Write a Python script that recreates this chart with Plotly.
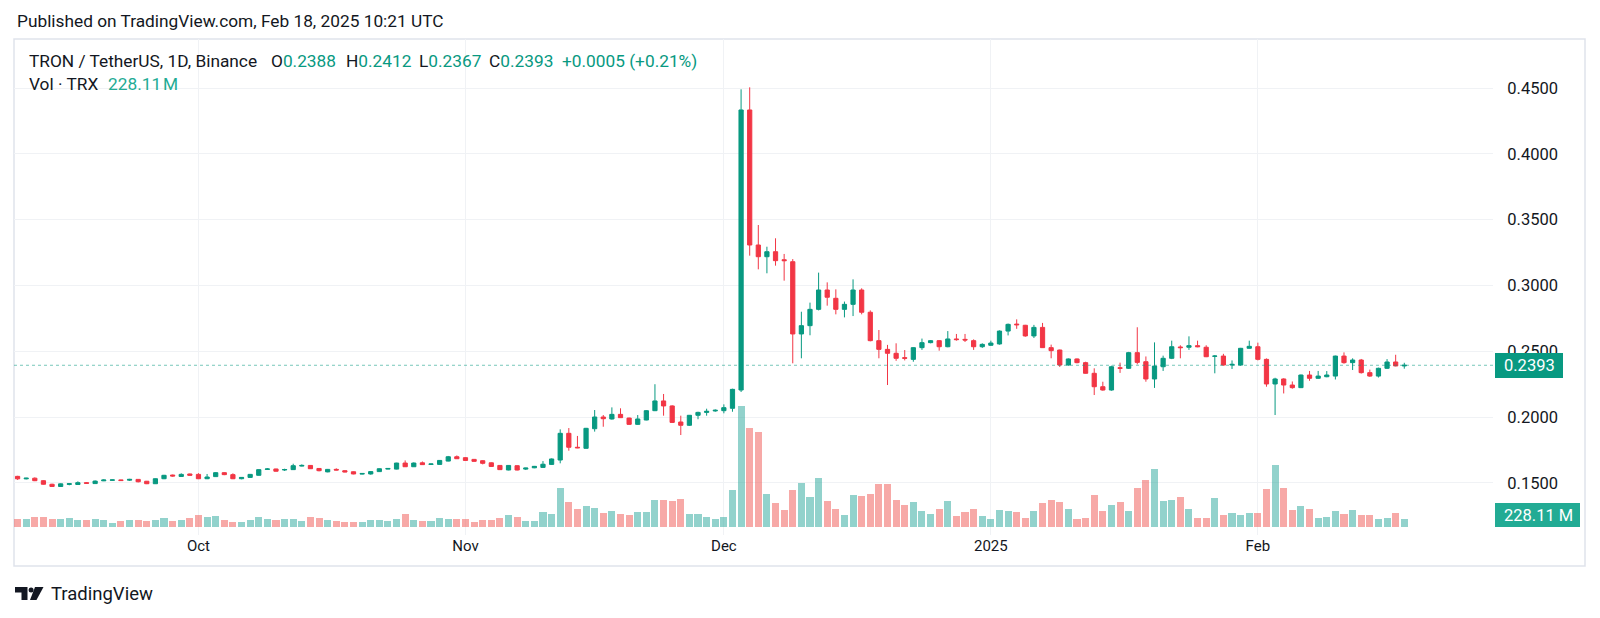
import plotly.graph_objects as go
import pandas as pd

# ---------------- data ----------------
dates = pd.date_range("2024-09-10", "2025-02-18", freq="D").strftime("%Y-%m-%d").tolist()

open_ = [0.1549, 0.1530, 0.1535, 0.1516, 0.1489, 0.1472, 0.1488, 0.1487, 0.1501, 0.1494,
         0.1515, 0.1519, 0.1522, 0.1520, 0.1526, 0.1512, 0.1493, 0.1531, 0.1559, 0.1548,
         0.1567, 0.1564, 0.1531, 0.1547, 0.1577, 0.1562, 0.1531, 0.1541, 0.1557, 0.1602,
         0.1605, 0.1597, 0.1600, 0.1627, 0.1632, 0.1609, 0.1583, 0.1602, 0.1592, 0.1584,
         0.1566, 0.1567, 0.1585, 0.1604, 0.1604, 0.1650, 0.1622, 0.1652, 0.1640, 0.1640,
         0.1665, 0.1698, 0.1691, 0.1678, 0.1668, 0.1652, 0.1632, 0.1597, 0.1630, 0.1604,
         0.1614, 0.1617, 0.1640, 0.1673, 0.1876, 0.1770, 0.1762, 0.1911, 0.2000, 0.1985,
         0.2020, 0.1992, 0.1944, 0.1977, 0.2048, 0.2122, 0.2084, 0.1962, 0.1937, 0.2013,
         0.2035, 0.2046, 0.2048, 0.2066, 0.2205, 0.4333, 0.3307, 0.3218, 0.3256, 0.3195,
         0.3180, 0.2631, 0.2694, 0.2818, 0.2965, 0.2902, 0.2818, 0.2856, 0.2965, 0.2796,
         0.2580, 0.2514, 0.2484, 0.2451, 0.2438, 0.2527, 0.2565, 0.2580, 0.2534, 0.2593,
         0.2590, 0.2580, 0.2534, 0.2545, 0.2555, 0.2653, 0.2706, 0.2697, 0.2616, 0.2681,
         0.2527, 0.2509, 0.2395, 0.2441, 0.2413, 0.2332, 0.2230, 0.2205, 0.2374, 0.2370,
         0.2489, 0.2420, 0.2289, 0.2382, 0.2446, 0.2532, 0.2530, 0.2542, 0.2530, 0.2461,
         0.2463, 0.2395, 0.2395, 0.2522, 0.2534, 0.2438, 0.2251, 0.2289, 0.2243, 0.2223,
         0.2319, 0.2294, 0.2306, 0.2311, 0.2463, 0.2413, 0.2433, 0.2337, 0.2311, 0.2370,
         0.2418, 0.2388]

high = [0.1553, 0.1538, 0.1541, 0.1519, 0.1493, 0.1495, 0.1498, 0.1511, 0.1506, 0.1518,
        0.1526, 0.1524, 0.1524, 0.1530, 0.1528, 0.1514, 0.1533, 0.1560, 0.1562, 0.1572,
        0.1570, 0.1573, 0.1567, 0.1580, 0.1580, 0.1572, 0.1543, 0.1567, 0.1602, 0.1612,
        0.1607, 0.1607, 0.1645, 0.1640, 0.1635, 0.1612, 0.1605, 0.1610, 0.1595, 0.1586,
        0.1574, 0.1588, 0.1609, 0.1612, 0.1652, 0.1670, 0.1655, 0.1662, 0.1645, 0.1673,
        0.1704, 0.1708, 0.1694, 0.1681, 0.1672, 0.1655, 0.1634, 0.1635, 0.1633, 0.1614,
        0.1628, 0.1665, 0.1685, 0.1906, 0.1916, 0.1856, 0.1917, 0.2053, 0.2015, 0.2073,
        0.2066, 0.1995, 0.2015, 0.2052, 0.2249, 0.2175, 0.2089, 0.2010, 0.2015, 0.2040,
        0.2063, 0.2058, 0.2096, 0.2215, 0.4490, 0.4505, 0.3459, 0.3294, 0.3358, 0.3239,
        0.3200, 0.2800, 0.2869, 0.3097, 0.3023, 0.2970, 0.2877, 0.3046, 0.2978, 0.2810,
        0.2661, 0.2548, 0.2560, 0.2509, 0.2530, 0.2596, 0.2585, 0.2585, 0.2653, 0.2631,
        0.2631, 0.2590, 0.2560, 0.2580, 0.2658, 0.2710, 0.2742, 0.2700, 0.2700, 0.2715,
        0.2550, 0.2512, 0.2445, 0.2445, 0.2420, 0.2370, 0.2268, 0.2390, 0.2413, 0.2495,
        0.2682, 0.2460, 0.2567, 0.2466, 0.2580, 0.2545, 0.2613, 0.2580, 0.2545, 0.2470,
        0.2480, 0.2430, 0.2525, 0.2580, 0.2565, 0.2445, 0.2298, 0.2294, 0.2270, 0.2322,
        0.2350, 0.2350, 0.2349, 0.2466, 0.2491, 0.2446, 0.2441, 0.2360, 0.2375, 0.2440,
        0.2473, 0.2412]

low = [0.1522, 0.1526, 0.1513, 0.1486, 0.1469, 0.1468, 0.1481, 0.1484, 0.1493, 0.1492,
       0.1513, 0.1516, 0.1514, 0.1514, 0.1503, 0.1490, 0.1491, 0.1528, 0.1547, 0.1545,
       0.1554, 0.1528, 0.1528, 0.1545, 0.1558, 0.1528, 0.1527, 0.1538, 0.1555, 0.1598,
       0.1585, 0.1590, 0.1598, 0.1624, 0.1605, 0.1587, 0.1580, 0.1595, 0.1580, 0.1565,
       0.1563, 0.1562, 0.1583, 0.1602, 0.1602, 0.1620, 0.1620, 0.1636, 0.1637, 0.1638,
       0.1663, 0.1681, 0.1668, 0.1660, 0.1640, 0.1621, 0.1597, 0.1595, 0.1594, 0.1597,
       0.1611, 0.1614, 0.1636, 0.1648, 0.1744, 0.1763, 0.1760, 0.1889, 0.1926, 0.1980,
       0.1993, 0.1940, 0.1940, 0.1975, 0.2045, 0.2010, 0.1955, 0.1863, 0.1932, 0.1983,
       0.2010, 0.2040, 0.2028, 0.2040, 0.2190, 0.3226, 0.3122, 0.3092, 0.3150, 0.3036,
       0.2408, 0.2446, 0.2621, 0.2810, 0.2846, 0.2780, 0.2757, 0.2767, 0.2780, 0.2575,
       0.2446, 0.2243, 0.2427, 0.2430, 0.2420, 0.2510, 0.2560, 0.2504, 0.2530, 0.2580,
       0.2570, 0.2510, 0.2525, 0.2540, 0.2550, 0.2620, 0.2670, 0.2610, 0.2600, 0.2525,
       0.2446, 0.2380, 0.2390, 0.2408, 0.2330, 0.2167, 0.2200, 0.2200, 0.2335, 0.2365,
       0.2400, 0.2268, 0.2221, 0.2350, 0.2440, 0.2446, 0.2510, 0.2530, 0.2455, 0.2332,
       0.2390, 0.2365, 0.2390, 0.2520, 0.2430, 0.2230, 0.2015, 0.2179, 0.2215, 0.2220,
       0.2275, 0.2290, 0.2302, 0.2285, 0.2405, 0.2357, 0.2330, 0.2305, 0.2300, 0.2365,
       0.2385, 0.2367]

close = [0.1530, 0.1535, 0.1516, 0.1489, 0.1472, 0.1492, 0.1493, 0.1501, 0.1496, 0.1513,
         0.1521, 0.1522, 0.1517, 0.1526, 0.1508, 0.1493, 0.1531, 0.1557, 0.1552, 0.1564,
         0.1557, 0.1531, 0.1544, 0.1577, 0.1562, 0.1531, 0.1541, 0.1564, 0.1600, 0.1605,
         0.1588, 0.1601, 0.1630, 0.1632, 0.1607, 0.1592, 0.1602, 0.1597, 0.1582, 0.1567,
         0.1571, 0.1585, 0.1607, 0.1609, 0.1650, 0.1622, 0.1650, 0.1638, 0.1643, 0.1670,
         0.1698, 0.1683, 0.1670, 0.1663, 0.1648, 0.1624, 0.1600, 0.1632, 0.1597, 0.1612,
         0.1625, 0.1641, 0.1681, 0.1876, 0.1770, 0.1766, 0.1914, 0.2000, 0.1987, 0.2020,
         0.1995, 0.1944, 0.1985, 0.2048, 0.2122, 0.2084, 0.1959, 0.1937, 0.2013, 0.2035,
         0.2043, 0.2051, 0.2071, 0.2210, 0.4333, 0.3307, 0.3218, 0.3256, 0.3188, 0.3188,
         0.2631, 0.2694, 0.2818, 0.2965, 0.2910, 0.2818, 0.2856, 0.2965, 0.2796, 0.2580,
         0.2514, 0.2484, 0.2446, 0.2446, 0.2527, 0.2565, 0.2580, 0.2534, 0.2593, 0.2588,
         0.2585, 0.2534, 0.2552, 0.2562, 0.2653, 0.2704, 0.2701, 0.2616, 0.2681, 0.2527,
         0.2504, 0.2395, 0.2441, 0.2413, 0.2332, 0.2230, 0.2205, 0.2382, 0.2370, 0.2489,
         0.2415, 0.2289, 0.2387, 0.2446, 0.2534, 0.2527, 0.2542, 0.2534, 0.2458, 0.2463,
         0.2395, 0.2400, 0.2522, 0.2537, 0.2438, 0.2251, 0.2289, 0.2243, 0.2223, 0.2319,
         0.2294, 0.2311, 0.2319, 0.2463, 0.2413, 0.2433, 0.2337, 0.2311, 0.2370, 0.2418,
         0.2388, 0.2393]

volume_m = [226, 226, 287, 287, 226, 226, 257, 195, 195, 226,
            195, 103, 164, 195, 195, 164, 195, 257, 164, 195,
            257, 370, 287, 339, 195, 133, 133, 195, 287, 226,
            195, 226, 226, 164, 287, 257, 195, 164, 133, 133,
            133, 195, 195, 164, 226, 400, 195, 164, 164, 257,
            226, 226, 226, 133, 195, 195, 257, 349, 287, 164,
            164, 447, 395, 1195, 749, 545, 637, 575, 421, 483,
            400, 370, 452, 452, 811, 811, 780, 842, 390, 390,
            287, 246, 308, 1129, 3727, 3028, 2915, 1016, 729, 513,
            1129, 1345, 903, 1499, 780, 545, 370, 986, 934, 1016,
            1314, 1314, 811, 667, 749, 483, 400, 545, 780, 339,
            452, 545, 339, 246, 513, 483, 452, 277, 483, 729,
            811, 749, 545, 246, 277, 986, 483, 667, 749, 483,
            1191, 1437, 1776, 780, 811, 924, 545, 277, 277, 873,
            370, 431, 370, 431, 431, 1160, 1900, 1191, 513, 637,
            545, 277, 308, 483, 400, 513, 370, 370, 246, 277,
            431, 228.11]

month_ticks = ["2024-10-01", "2024-11-01", "2024-12-01", "2025-01-01", "2025-02-01"]
month_labels = ["Oct", "Nov", "Dec", "2025", "Feb"]
price_ticks = [0.15, 0.20, 0.25, 0.30, 0.35, 0.40, 0.45]
price_labels = ["0.1500", "0.2000", "0.2500", "0.3000", "0.3500", "0.4000", "0.4500"]
last_price = 0.2393
last_volume_label = "228.11 M"
header_title = "TRON / TetherUS, 1D, Binance"
header_values = [("O", "0.2388"), ("H", "0.2412"), ("L", "0.2367"), ("C", "0.2393")]
header_change = "+0.0005 (+0.21%)"

# ---------------- styling ----------------
GREEN = "#089981"
RED = "#F23645"
VOL_GREEN = "rgba(38,166,154,0.5)"
VOL_RED = "rgba(239,83,80,0.5)"
TEXT = "#131722"
GRID = "#F0F2F5"
FONT = "Roboto"

W, H = 1600, 618
OFF = 8                         # page body margin offset
L, R, T, B = 14, 1493, 39, 535  # plot area in page pixels


def px(x):
    return (x - L) / (R - L)


def py(y):
    return (B - y) / (B - T)


vol_colors = [VOL_GREEN if c >= o else VOL_RED for o, c in zip(open_, close)]

fig = go.Figure()
fig.add_trace(go.Bar(
    x=dates, y=volume_m, marker=dict(color=vol_colors, line=dict(width=0)),
    width=0.82 * 86400000, yaxis="y", hoverinfo="skip", showlegend=False,
))
fig.add_trace(go.Candlestick(
    x=dates, open=open_, high=high, low=low, close=close, yaxis="y2",
    increasing=dict(line=dict(color=GREEN, width=1), fillcolor=GREEN),
    decreasing=dict(line=dict(color=RED, width=1), fillcolor=RED),
    hoverinfo="skip", showlegend=False,
))

shapes = []
shapes.append(dict(type="rect", xref="paper", yref="paper",
                   x0=px(14), x1=px(1585), y0=py(566), y1=py(39),
                   line=dict(color="#E0E3EB", width=1.5), layer="below"))
shapes.append(dict(type="line", xref="paper", yref="y2", x0=0, x1=1,
                   y0=last_price, y1=last_price,
                   line=dict(color="rgba(8,153,129,0.55)", width=1, dash="dot")))
shapes.append(dict(type="rect", xref="paper", yref="paper",
                   x0=px(1495), x1=px(1563), y0=py(378), y1=py(353),
                   fillcolor=GREEN, line=dict(width=0), layer="above"))
shapes.append(dict(type="rect", xref="paper", yref="paper",
                   x0=px(1495), x1=px(1580), y0=py(527), y1=py(503),
                   fillcolor="#22AB94", line=dict(width=0), layer="above"))


def path(points):
    return "M " + " L ".join(f"{px(a):.5f},{py(b):.5f}" for a, b in points) + " Z"


# TradingView logo
shapes.append(dict(type="path", xref="paper", yref="paper",
                   path=path([(15, 587), (27.5, 587), (27.5, 600), (21.5, 600), (21.5, 592.5), (15, 592.5)]),
                   fillcolor=TEXT, line=dict(width=0)))
shapes.append(dict(type="circle", xref="paper", yref="paper",
                   x0=px(28.6), x1=px(33.6), y0=py(592.5), y1=py(587.5),
                   fillcolor=TEXT, line=dict(width=0)))
shapes.append(dict(type="path", xref="paper", yref="paper",
                   path=path([(35, 587), (43.5, 587), (36.5, 600), (30, 600)]),
                   fillcolor=TEXT, line=dict(width=0)))


def label(x, y, text, size, color=TEXT, anchor="left"):
    return dict(xref="paper", yref="paper", x=px(x), y=py(y), xanchor=anchor, yanchor="middle",
                text=text, showarrow=False, font=dict(family=FONT, size=size, color=color))


annotations = [
    label(15, 21.5, "Published on TradingView.com, Feb 18, 2025 10:21 UTC", 17.3),
    label(26.5, 61, header_title, 17.3),
]
for (k, v), x0 in zip(header_values, [269, 344, 417, 487]):
    annotations.append(label(x0, 61, f"{k}<span style='color:{GREEN}'>{v}</span>", 17.3))
annotations.append(label(560, 61, header_change, 17.3, GREEN))
annotations.append(label(27, 84.5, "Vol · TRX", 17.3))
annotations.append(label(106, 84.5, "228.11&#8202;M", 17.3, "#22AB94"))
annotations.append(label(1529.5, 365.5, f"{last_price:.4f}", 16.5, "white", "center"))
annotations.append(label(1538.5, 515, last_volume_label, 16.5, "white", "center"))
annotations.append(label(48.5, 594, "TradingView", 18.5))

px_per_m = 30.8  # M of volume per pixel
vol_base_px = 526.7

fig.update_layout(
    width=W, height=H,
    margin=dict(l=L - OFF, r=W - (R - OFF), t=T - OFF, b=H - (B - OFF)),
    paper_bgcolor="white", plot_bgcolor="white",
    font=dict(family=FONT, size=14, color=TEXT),
    showlegend=False, hovermode=False,
    bargap=0,
    xaxis=dict(
        type="date",
        range=["2024-09-09 14:00", "2025-02-28 07:12"],
        tickvals=month_ticks, ticktext=month_labels,
        showgrid=True, gridcolor=GRID, gridwidth=1,
        ticks="", ticklabelstandoff=0,
        showline=False, zeroline=False,
        rangeslider=dict(visible=False),
        tickfont=dict(family=FONT, size=15, color=TEXT),
    ),
    yaxis=dict(
        range=[-(B - vol_base_px) * px_per_m, (vol_base_px - T) * px_per_m],
        visible=False, showgrid=False, zeroline=False,
    ),
    yaxis2=dict(
        overlaying="y", side="right",
        range=[0.2 - (B - 417) / 1316, 0.2 + (417 - T) / 1316],
        tickvals=price_ticks, ticktext=price_labels,
        showgrid=True, gridcolor=GRID, gridwidth=1,
        ticks="outside", ticklen=10, tickcolor="rgba(0,0,0,0)",
        showline=False, zeroline=False,
        tickfont=dict(family=FONT, size=16.5, color=TEXT),
    ),
    shapes=shapes,
    annotations=annotations,
)

fig.write_html("out.html", config={"displayModeBar": False})
